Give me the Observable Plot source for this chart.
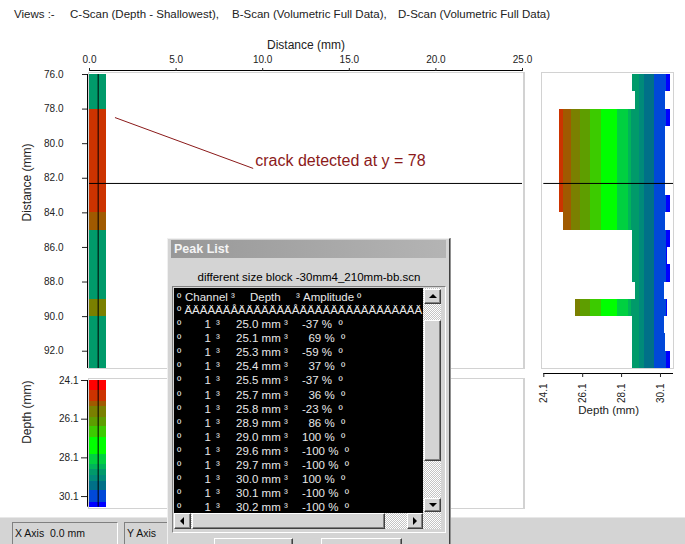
<!DOCTYPE html>
<html><head><meta charset="utf-8">
<script src="https://cdn.jsdelivr.net/npm/d3@7"></script>
<script src="https://cdn.jsdelivr.net/npm/@observablehq/plot@0.6"></script>
<style>
html,body{margin:0;padding:0;background:#fff;}
body{font-family:"Liberation Sans",Arial,sans-serif;color:#222;}
#root{position:relative;width:685px;height:544px;overflow:hidden;background:#fff;}
.a{position:absolute;white-space:pre;}
.btn{position:absolute;background:#d4d4d4;border:1px solid;border-color:#fff #404040 #404040 #fff;box-shadow:inset -1px -1px 0 #808080;box-sizing:border-box;}
.dith{position:absolute;background:repeating-conic-gradient(#ffffff 0 25%, #c4c4c4 0 50%) 0 0/2px 2px;}
svg.plot, svg{overflow:visible;}
</style></head>
<body><div id="root"></div>
<script>
// ---------------- DATA ----------------
const headerParts = ["Views :-", "C-Scan (Depth - Shallowest),", "B-Scan (Volumetric Full Data),", "D-Scan (Volumetric Full Data)"];
const distTicks = [0, 5, 10, 15, 20, 25];
const yTicks = [76, 78, 80, 82, 84, 86, 88, 90, 92];
const depthTicks = [24.1, 26.1, 28.1, 30.1];
const scanX = [0, 1];            // scanned x extent (mm)
const cursorX = 0.5;
const cursorY = 82.3;
// D-scan rows: y band (mm), first (shallowest) depth and last depth with signal
const rowY0 = [76, 77, 78, 79, 80, 81, 82, 83, 84, 85, 86, 87, 88, 89, 90, 91, 92];
const rowY1 = [77, 78, 79, 80, 81, 82, 83, 84, 85, 86, 87, 88, 89, 90, 91, 92, 93];
const rowStart = [28.65, 28.8, 24.9, 24.9, 24.9, 24.9, 24.9, 24.9, 25.13, 28.65, 28.65, 28.65, 28.8, 25.75, 28.65, 28.65, 28.65];
const rowEnd = [30.6, 30.35, 30.6, 30.35, 30.35, 30.35, 30.35, 30.6, 30.35, 30.6, 30.48, 30.6, 30.32, 30.48, 30.32, 30.35, 30.6];
// B-scan depth bands (mm)
const bscanEdges = [24.1, 24.6, 25.2, 25.45, 26.0, 26.5, 27.05, 27.9, 28.45, 28.7, 29.0, 29.3, 29.8, 30.4, 30.65];
// depth colour palette
const depthBreaks = [24.6, 25.12, 25.5, 26.0, 26.5, 27.05, 27.9, 28.45, 28.62, 29.0, 29.3, 29.8, 30.4];
const depthColors = ["#FF0000", "#CC3300", "#A05A00", "#7A8000", "#5E9E00", "#3CCB00", "#00FF00", "#00D040", "#00B45A", "#009A6A", "#008A7A", "#007088", "#0048D8", "#0000FF"];
// annotation
const annotLabel = ["crack detected at y = 78"];
const annotFrom = [1.47, 78.49];
const annotTo = [9.45, 81.43];
const annotText = [9.57, 81.0];
// peak list
const peakTitle = "Peak List";
const peakFile = "different size block -30mm4_210mm-bb.scn";
const peakHeader = ["º", "Channel", "³", "Depth", "³", "Amplitude", "º"];
const peakRule = "º ÄÄÄÄÄÄÅÄÄÄÄÄÄÄÅÄÄÄÄÄÄÄÄÄÄÄÄÄÄÄÄ";
const peakChannel = [1, 1, 1, 1, 1, 1, 1, 1, 1, 1, 1, 1, 1, 1];
const peakDepth = [25.0, 25.1, 25.3, 25.4, 25.5, 25.7, 25.8, 28.9, 29.0, 29.6, 29.7, 30.0, 30.1, 30.2];
const peakAmp = [-37, 69, -59, 37, -37, 36, -23, 86, 100, -100, -100, 100, -100, -100];
const statusX = "X Axis  0.0 mm";
const statusY = "Y Axis";

// ---------------- helpers ----------------
const root = document.getElementById("root");
function box(parent, css, text, cls) {
  const d = document.createElement("div");
  d.className = cls || "a";
  d.style.cssText = css;
  if (text != null) d.textContent = text;
  parent.appendChild(d);
  return d;
}
const FONT = "'Liberation Sans', Arial, sans-serif";
const colorSpec = {type: "threshold", domain: depthBreaks, range: depthColors};
const fmt1 = d => d.toFixed(1);
const baseStyle = {background: "transparent", fontFamily: FONT, fontSize: "10px", color: "#222", overflow: "visible"};

// ---------------- header ----------------
const headerX = [14, 70, 232, 398];
headerParts.forEach((t, i) => box(root, `left:${headerX[i]}px;top:6px;line-height:16px;font-size:11.5px;color:#222;`, t));

// panel frames
box(root, "left:88px;top:72px;width:434px;height:295px;border:1px solid #d2d2d2;border-right:2px solid #d2d2d2;");
box(root, "left:88px;top:378px;width:434px;height:129px;border:1px solid #d2d2d2;border-right:2px solid #d2d2d2;");
box(root, "left:541px;top:72px;width:131px;height:295px;border:1px solid #d2d2d2;");

// ---------------- C-scan (main) ----------------
const cscan = rowY0.map((y0, i) => ({y0, y1: rowY1[i], depth: rowStart[i]}));
const annot = [{x1: annotFrom[0], y1: annotFrom[1], x2: annotTo[0], y2: annotTo[1], tx: annotText[0], ty: annotText[1], label: annotLabel[0]}];
const main = Plot.plot({
  width: 530, height: 380, marginLeft: 89, marginRight: 8, marginTop: 74, marginBottom: 12,
  x: {domain: [0, 25], axis: null}, y: {domain: [76, 93], reverse: true, axis: null},
  color: colorSpec, style: baseStyle,
  marks: [
    Plot.rect(cscan, {x1: () => scanX[0], x2: () => scanX[1], y1: "y0", y2: "y1", fill: "depth", shapeRendering: "crispEdges"}),
    Plot.ruleX([cursorX], {stroke: "#000"}),
    Plot.ruleY([cursorY], {stroke: "#000"}),
    Plot.link(annot, {x1: "x1", y1: "y1", x2: "x2", y2: "y2", stroke: "#8B1A1A", strokeWidth: 1}),
    Plot.text(annot, {x: "tx", y: "ty", text: "label", textAnchor: "start", fontSize: 16, fill: "#8B1A1A"}),
    Plot.ruleY([76], {dy: -4, stroke: "#000"}),
    Plot.axisX(distTicks, {anchor: "top", tickSize: 3, tickPadding: 5, dy: -4, tickFormat: fmt1, label: null}),
    Plot.ruleX([0], {dx: -2, stroke: "#000"}),
    Plot.axisY(yTicks, {anchor: "left", tickSize: 5, tickPadding: 19, dx: -2, tickFormat: fmt1, label: null}),
    Plot.text(["Distance (mm)"], {frameAnchor: "top", dy: -34, fontSize: 12}),
    Plot.text(["Distance (mm)"], {frameAnchor: "left", dx: -62, rotate: -90, fontSize: 12})
  ]
});
main.style.cssText += ";position:absolute;left:0;top:0;";
root.appendChild(main);

// ---------------- B-scan (bottom) ----------------
const bscan = bscanEdges.slice(0, -1).map((d0, i) => ({d0, d1: bscanEdges[i + 1], mid: (d0 + bscanEdges[i + 1]) / 2}));
const bplot = Plot.plot({
  width: 530, height: 145, marginLeft: 89, marginRight: 8, marginTop: 10, marginBottom: 8.3,
  x: {domain: [0, 25], axis: null}, y: {domain: [24.1, 30.65], reverse: true, axis: null},
  color: colorSpec, style: baseStyle,
  marks: [
    Plot.rect(bscan, {x1: () => scanX[0], x2: () => scanX[1], y1: "d0", y2: "d1", fill: "mid", shapeRendering: "crispEdges"}),
    Plot.ruleX([cursorX], {stroke: "#000"}),
    Plot.ruleX([0], {dx: -2, stroke: "#000"}),
    Plot.axisY(depthTicks, {anchor: "left", tickSize: 6, tickPadding: 3, dx: -2, tickFormat: fmt1, label: null}),
    Plot.text(["Depth (mm)"], {frameAnchor: "left", dx: -62, rotate: -90, fontSize: 12})
  ]
});
bplot.style.cssText += ";position:absolute;left:0;top:370px;";
root.appendChild(bplot);

// ---------------- D-scan (right) ----------------
const dscan = [];
rowY0.forEach((y0, i) => {
  const s = rowStart[i], e = rowEnd[i];
  const edges = [s, ...depthBreaks.filter(b => b > s && b < e), e];
  for (let k = 0; k < edges.length - 1; k++) dscan.push({y0, y1: rowY1[i], d0: edges[k], d1: edges[k + 1], mid: (edges[k] + edges[k + 1]) / 2});
});
const dplot = Plot.plot({
  width: 155, height: 430, marginLeft: 13.3, marginRight: 12, marginTop: 74, marginBottom: 62,
  x: {domain: [24.1, 30.77], axis: null}, y: {domain: [76, 93], reverse: true, axis: null},
  color: colorSpec, style: baseStyle,
  marks: [
    Plot.rect(dscan, {x1: "d0", x2: "d1", y1: "y0", y2: "y1", fill: "mid", shapeRendering: "crispEdges"}),
    Plot.ruleY([cursorY], {stroke: "#000"}),
    Plot.ruleY([93], {dy: 5, stroke: "#000"}),
    Plot.axisX(depthTicks, {anchor: "bottom", tickRotate: -90, tickSize: 4, tickPadding: 6, dy: 5, tickFormat: fmt1, label: null}),
    Plot.text(["Depth (mm)"], {frameAnchor: "bottom", dy: 45, fontSize: 11.5})
  ]
});
dplot.style.cssText += ";position:absolute;left:530px;top:0;";
root.appendChild(dplot);

// ---------------- status bar ----------------
const sb = box(root, "left:0;top:517px;width:685px;height:27px;background:#d4d4d4;border-top:1px solid #e8e8e8;z-index:3;");
const px = box(sb, "left:12px;top:4px;width:106px;height:24px;border-top:1px solid #808080;border-left:1px solid #808080;border-right:1px solid #fff;box-sizing:border-box;");
box(px, "left:2px;top:2px;line-height:16px;font-size:10.5px;color:#111;", statusX);
const py = box(sb, "left:124px;top:4px;width:70px;height:24px;border-top:1px solid #808080;border-left:1px solid #808080;box-sizing:border-box;");
box(py, "left:2px;top:2px;line-height:16px;font-size:10.5px;color:#111;", statusY);

// ---------------- Peak List dialog ----------------
const dlg = box(root, "left:167px;top:238px;width:281px;height:330px;background:#d4d4d4;border-left:1px solid #f0f0f0;border-top:1px solid #f0f0f0;border-right:1px solid #404040;box-shadow:1px 0 0 #909090;z-index:5;");
const tb = box(dlg, "left:3px;top:1px;width:275px;height:18px;background:linear-gradient(to right,#989898,#b4b4b4);");
box(tb, "left:3px;top:0;line-height:18px;font-size:12.5px;font-weight:bold;color:#f4f4f4;", peakTitle);
box(dlg, "left:0;top:30px;width:282px;text-align:center;line-height:16px;font-size:11.5px;color:#000;", peakFile);
// list frame
box(dlg, "left:4px;top:47px;width:272px;height:245px;border-top:1px solid #808080;border-left:1px solid #808080;border-right:1px solid #fff;border-bottom:1px solid #fff;");
const list = box(dlg, "left:6px;top:49px;width:249px;height:225px;background:#000;overflow:hidden;font-size:11.5px;color:#e8e8e8;");
function listRow(cy, parts) {
  parts.forEach(([x, t, w]) => {
    const css = w ? `left:${x - w}px;width:${w}px;text-align:right;` : `left:${x}px;`;
    box(list, css + `top:${cy - 7}px;line-height:14px;`, t);
  });
}
const headerCols = [3, 11, 57, 76, 122, 129, 183];
listRow(8.7, peakHeader.map((t, i) => [headerCols[i], t]));
box(list, "left:3px;top:15px;line-height:14px;", peakRule);
peakDepth.forEach((d, i) => {
  const a = peakAmp[i];
  const amp = (a >= 0 && Math.abs(a) < 100 ? "  " : "") + a + " %  º";
  listRow(36 + i * 14.1, [[3, "º"], [37, String(peakChannel[i]), 12], [42, "³"], [62, d.toFixed(1) + " mm"], [110, "³"], [128, amp]]);
});
// vertical scrollbar
box(dlg, "left:255px;top:49px;width:18px;height:225px;", null, "dith");
const up = box(dlg, "left:256px;top:50px;width:17px;height:15px;", null, "btn");
box(up, "left:4px;top:4px;width:0;height:0;border-left:4px solid transparent;border-right:4px solid transparent;border-bottom:4px solid #000;");
box(dlg, "left:256px;top:81px;width:17px;height:141px;", null, "btn");
const dn = box(dlg, "left:256px;top:259px;width:17px;height:14px;", null, "btn");
box(dn, "left:4px;top:4px;width:0;height:0;border-left:4px solid transparent;border-right:4px solid transparent;border-top:4px solid #000;");
// horizontal scrollbar
box(dlg, "left:6px;top:274px;width:267px;height:16px;", null, "dith");
const lf = box(dlg, "left:6px;top:274px;width:17px;height:16px;", null, "btn");
box(lf, "left:5px;top:3px;width:0;height:0;border-top:4px solid transparent;border-bottom:4px solid transparent;border-right:4px solid #000;");
box(dlg, "left:24px;top:274px;width:193px;height:16px;", null, "btn");
const rt = box(dlg, "left:239px;top:274px;width:16px;height:16px;", null, "btn");
box(rt, "left:5px;top:3px;width:0;height:0;border-top:4px solid transparent;border-bottom:4px solid transparent;border-left:4px solid #000;");
// buttons
box(dlg, "left:46px;top:299px;width:79px;height:24px;", null, "btn");
box(dlg, "left:153px;top:299px;width:81px;height:24px;", null, "btn");
</script>
</body></html>
